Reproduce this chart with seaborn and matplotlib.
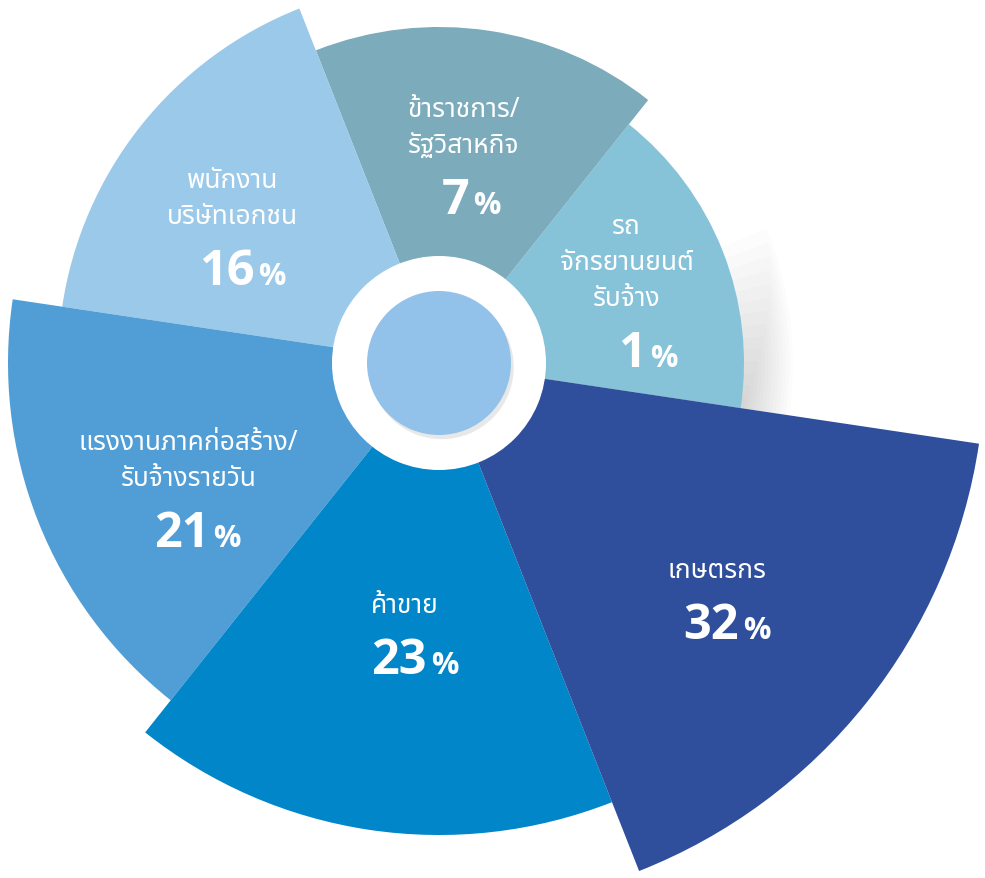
"""
plot.py
Occupation breakdown drawn as an equal-angle "rose" pie: every slice gets
60 degrees, the slice length grows with the share.
"""

import numpy as np
import pandas as pd
import matplotlib
matplotlib.use("Agg")
import matplotlib.pyplot as plt
import matplotlib.patheffects as pe
from matplotlib import font_manager as fm
import seaborn as sns

# data (counter-clockwise, starting just below 3 o'clock)
categories = [
    "รถ\nจักรยานยนต์\nรับจ้าง",
    "ข้าราชการ/\nรัฐวิสาหกิจ",
    "พนักงาน\nบริษัทเอกชน",
    "แรงงานภาคก่อสร้าง/\nรับจ้างรายวัน",
    "ค้าขาย",
    "เกษตรกร",
]
shares = [1, 7, 16, 21, 23, 32]

# styling / layout
colors = ["#86C3D9", "#7CABBC", "#9BC9E9", "#519ED6", "#0086C9", "#2F4F9D"]
outer_r = [305, 336, 381, 431, 472, 546]          # slice length in px
start_deg = -8.5
label_pos = [(3.8, 209), (79.2, 170), (154, 219), (214.5, 293), (265.3, 294), (318.1, 387)]
name_dx = [-21, -7, -10, -9, -10, -10]

W, H, DPI = 985, 879, 100
CX, CY, RMAX = 439, 364, 560
PT = 72 / DPI


def pick_thai_font():
    preferred = ["Noto Sans Thai", "Noto Sans Thai Looped", "Noto Sans Thai UI",
                 "Loma", "Garuda", "Kinnari", "Norasi", "Tlwg Typo", "Waree"]
    names = {f.name for f in fm.fontManager.ttflist}
    for p in preferred:
        if p in names:
            return p
    try:
        from fontTools.ttLib import TTFont
        for f in fm.fontManager.ttflist:
            try:
                tt = TTFont(f.fname, fontNumber=0, lazy=True)
                if 0x0E01 in tt.getBestCmap():
                    return f.name
            except Exception:
                continue
    except ImportError:
        pass
    return "DejaVu Sans"


sns.set_theme(style="white")
thai = pick_thai_font()
plt.rcParams["font.family"] = [thai, "DejaVu Sans"]

fig = plt.figure(figsize=(W / DPI, H / DPI), dpi=DPI)
fig.patch.set_facecolor("white")
ax = fig.add_axes([(CX - RMAX) / W, (H - CY - RMAX) / H, 2 * RMAX / W, 2 * RMAX / H],
                  projection="polar")

step = 360 / len(shares)
df = pd.DataFrame({
    "theta": np.deg2rad(start_deg + step / 2 + step * np.arange(len(shares))),
    "r": outer_r,
    "cat": categories,
})

# soft shadow the big slice casts above itself
for k in range(1, 15):
    ax.bar(np.deg2rad(start_deg), outer_r[0] + 3.5 * k, width=np.deg2rad(2.2 * k),
           align="edge", color="black", alpha=0.012, linewidth=0, zorder=0.5)

sns.barplot(data=df, x="theta", y="r", hue="cat", palette=colors, native_scale=True,
            width=1, dodge=False, errorbar=None, legend=False, saturation=1,
            linewidth=0, ax=ax)

# centre hole + disc
ax.bar(0, 107, width=2 * np.pi, align="edge", color="white", linewidth=0, zorder=3)
ax.bar(0, 72, width=2 * np.pi, align="edge", color="#92C2EA", linewidth=0, zorder=4,
       path_effects=[pe.SimplePatchShadow(offset=(2, -3), shadow_rgbFace="black", alpha=0.09),
                     pe.Normal()])

ax.set_xlim(0, 2 * np.pi)
ax.set_ylim(0, RMAX)
ax.set_axis_off()

renderer = fig.canvas.get_renderer()
for i, (name, val) in enumerate(zip(categories, shares)):
    th, r = np.deg2rad(label_pos[i][0]), label_pos[i][1]
    lines = name.split("\n")
    n = len(lines)
    for k, line in enumerate(lines):
        dy = 52 + 36 * (n - 1 - k) - 8
        ax.annotate(line, (th, r), xytext=(name_dx[i] * PT, dy * PT),
                    textcoords="offset points", ha="center", va="baseline",
                    color="white", fontsize=19, fontweight="semibold", zorder=6)
    t_num = ax.annotate(str(val), (th, r), xytext=(0, -17 * PT), textcoords="offset points",
                        ha="left", va="baseline", color="white", fontsize=35,
                        fontweight="bold", family=["Open Sans", "DejaVu Sans"], zorder=6)
    t_pct = ax.annotate("%", (th, r), xytext=(0, -17 * PT), textcoords="offset points",
                        ha="left", va="baseline", color="white", fontsize=22,
                        fontweight="bold", family=["Open Sans", "DejaVu Sans"], zorder=6)
    wn = t_num.get_window_extent(renderer).width
    wp = t_pct.get_window_extent(renderer).width
    gap = 4
    left = -(wn + gap + wp) / 2
    t_num.xyann = (left * PT, -17 * PT)
    t_pct.xyann = ((left + wn + gap) * PT, -17 * PT)

fig.savefig("out.png", dpi=DPI, facecolor="white")
plt.close(fig)
